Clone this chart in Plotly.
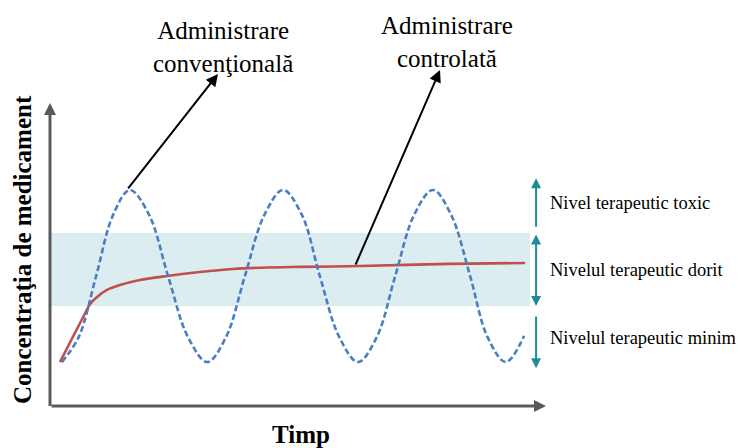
import plotly.graph_objects as go

# ---- data (time units 0..10, concentration units 0..10) ----
conv_t = [0.24, 0.58, 0.93, 1.27, 1.61, 2.00, 2.38, 2.78, 3.17, 3.55, 3.93, 4.32, 4.70,
          5.08, 5.44, 5.83, 6.21, 6.59, 6.96, 7.34, 7.72, 8.09, 8.47, 8.82, 9.19, 9.56]
conv_c = [1.45, 2.28, 4.29, 6.30, 7.13, 6.30, 4.29, 2.28, 1.45, 2.28, 4.29, 6.30, 7.13,
          6.30, 4.29, 2.28, 1.45, 2.28, 4.29, 6.30, 7.13, 6.30, 4.29, 2.28, 1.45, 2.32]

ctrl_t = [0.20, 0.71, 0.81, 0.95, 1.15, 1.41, 1.81, 2.36, 3.02, 3.69, 4.38, 5.04, 6.25, 8.06, 9.58]
ctrl_c = [1.45, 3.07, 3.37, 3.60, 3.83, 3.99, 4.16, 4.29, 4.42, 4.52, 4.57, 4.59, 4.62, 4.69, 4.72]

band_low, band_high, band_end = 3.30, 5.71, 9.68

level_labels = ["Nivel terapeutic toxic", "Nivelul terapeutic dorit", "Nivelul terapeutic minim"]
level_label_c = [6.70, 4.49, 2.24]
level_ranges = [(5.87, 7.52), (5.71, 3.30), (3.00, 1.25)]
level_t = 9.80

x_title = "Timp"
y_title = "Concentraţia de medicament"
conv_label = "Administrare<br>convenţională"
ctrl_label = "Administrare<br>controlată"

SERIF = "Liberation Serif, Times New Roman, serif"
TEAL = "rgb(32,140,152)"
AXIS = "rgb(90,90,90)"

fig = go.Figure()

fig.add_shape(type="rect", x0=0, x1=band_end, y0=band_low, y1=band_high,
              fillcolor="rgb(220,237,241)", line_width=0, layer="below")

fig.add_trace(go.Scatter(x=ctrl_t, y=ctrl_c, mode="lines",
                         line=dict(color="rgb(192,80,77)", width=2.6, shape="spline", smoothing=0.8),
                         hoverinfo="skip"))
fig.add_trace(go.Scatter(x=conv_t, y=conv_c, mode="lines",
                         line=dict(color="rgb(74,126,193)", width=2.6, dash="6px,3px",
                                   shape="spline", smoothing=1.0),
                         hoverinfo="skip"))

ann = []
# axes arrows
ann.append(dict(x=10, y=0, ax=0, ay=0, xref="x", yref="y", axref="x", ayref="y", text="",
                showarrow=True, arrowhead=2, arrowsize=0.8, arrowwidth=3, arrowcolor=AXIS, standoff=0))
ann.append(dict(x=0, y=10, ax=0, ay=-0.05, xref="x", yref="y", axref="x", ayref="y", text="",
                showarrow=True, arrowhead=2, arrowsize=0.8, arrowwidth=3, arrowcolor=AXIS, standoff=0))

# pointer arrows
ann.append(dict(x=3.387, y=10.957, ax=1.552, ay=7.129, xref="x", yref="y", axref="x", ayref="y",
                text="", showarrow=True, arrowhead=2, arrowsize=1.2, arrowwidth=2, arrowcolor="black", standoff=0))
ann.append(dict(x=7.863, y=11.089, ax=6.149, ay=4.620, xref="x", yref="y", axref="x", ayref="y",
                text="", showarrow=True, arrowhead=2, arrowsize=1.2, arrowwidth=2, arrowcolor="black", standoff=0))

# labels
ann.append(dict(x=3.488, y=11.85, xref="x", yref="y", text=conv_label, showarrow=False,
                font=dict(family=SERIF, size=25, color="black"), xanchor="center", yanchor="middle"))
ann.append(dict(x=8.004, y=12.0, xref="x", yref="y", text=ctrl_label, showarrow=False,
                font=dict(family=SERIF, size=25, color="black"), xanchor="center", yanchor="middle"))

# level arrows
(a0, a1), (b0, b1), (c0, c1) = level_ranges
ann.append(dict(x=level_t, y=a1, ax=level_t, ay=a0, xref="x", yref="y", axref="x", ayref="y", text="",
                showarrow=True, arrowhead=2, arrowsize=1, arrowwidth=2, arrowcolor=TEAL, standoff=0))
ann.append(dict(x=level_t, y=b1, ax=level_t, ay=b0, xref="x", yref="y", axref="x", ayref="y", text="",
                showarrow=True, arrowhead=2, startarrowhead=2, arrowside="end+start", arrowsize=1,
                startarrowsize=1, arrowwidth=2, arrowcolor=TEAL, standoff=0, startstandoff=0))
ann.append(dict(x=level_t, y=c1, ax=level_t, ay=c0, xref="x", yref="y", axref="x", ayref="y", text="",
                showarrow=True, arrowhead=2, arrowsize=1, arrowwidth=2, arrowcolor=TEAL, standoff=0))

for lbl, cy in zip(level_labels, level_label_c):
    ann.append(dict(x=10.04, y=cy, xref="x", yref="y", text=lbl, showarrow=False,
                    font=dict(family=SERIF, size=18.5, color="black"), xanchor="left", yanchor="middle"))

# axis titles
ann.append(dict(x=5.06, y=-0.93, xref="x", yref="y", text="<b>" + x_title + "</b>", showarrow=False,
                font=dict(family=SERIF, size=25, color="black"), xanchor="center", yanchor="middle"))
ann.append(dict(x=-0.565, y=5.18, xref="x", yref="y", text="<b>" + y_title + "</b>", showarrow=False,
                textangle=-90, font=dict(family=SERIF, size=25, color="black"),
                xanchor="center", yanchor="middle"))

# page has an 8px body margin: figure covers page pixels 8..745 x 8..448
fig.update_layout(
    width=737, height=440,
    margin=dict(l=0, r=0, t=0, b=0),
    paper_bgcolor="white", plot_bgcolor="white",
    showlegend=False,
    xaxis=dict(range=[-0.8468, 14.0121], visible=False, fixedrange=True),
    yaxis=dict(range=[-1.386, 13.135], visible=False, fixedrange=True),
    annotations=ann,
)

fig.write_html("out.html")
